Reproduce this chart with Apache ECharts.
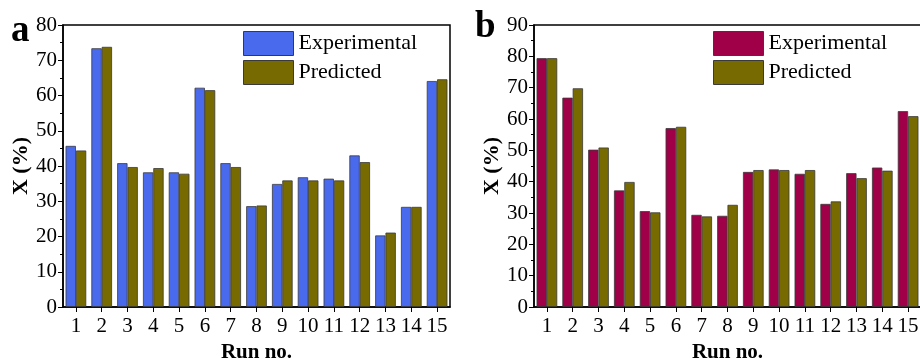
<!DOCTYPE html>
<html>
<head>
<meta charset="utf-8">
<script src="https://cdn.jsdelivr.net/npm/echarts@6/dist/echarts.min.js"></script>
<style>
html,body{margin:0;padding:0;background:#fff;}
#c{width:920px;height:358px;}
</style>
</head>
<body>
<div id="c"></div>
<script>
const runs = ['1','2','3','4','5','6','7','8','9','10','11','12','13','14','15'];
const expA = [45.7,73.4,40.8,38.2,38.2,62.2,40.8,28.6,34.9,36.8,36.4,43.0,20.3,28.4,64.1];
const predA = [44.4,73.8,39.7,39.4,37.8,61.5,39.7,28.8,35.9,35.9,35.9,41.1,21.1,28.4,64.6];
const expB = [79.4,66.8,50.2,37.2,30.6,57.1,29.4,29.1,43.1,43.9,42.5,32.9,42.7,44.5,62.5];
const predB = [79.4,69.8,50.9,39.9,30.2,57.5,28.9,32.6,43.7,43.7,43.7,33.7,41.1,43.5,60.9];

const FONT = "'Liberation Serif','Times New Roman',serif";
const colBlue = '#4A6AEE';
const colRed = '#A00048';
const colOlive = '#776A00';

function xAx(gi){
  return {
    type:'category', gridIndex:gi, data:runs,
    name:'Run no.', nameLocation:'middle', nameGap:30,
    nameTextStyle:{fontFamily:FONT,fontWeight:'bold',fontSize:21,color:'#000'},
    axisLine:{lineStyle:{color:'#000',width:1.5}},
    axisTick:{show:true,alignWithLabel:true,length:5,lineStyle:{color:'#000'}},
    axisLabel:{fontFamily:FONT,fontSize:21,color:'#000',margin:9,interval:0}
  };
}
function yAx(gi,max){
  return {
    type:'value', gridIndex:gi, min:0, max:max, interval:10,
    name:'X (%)', nameLocation:'middle', nameGap:29, nameRotate:90,
    nameTextStyle:{fontFamily:FONT,fontWeight:'bold',fontSize:22,color:'#000'},
    axisLine:{show:true,lineStyle:{color:'#000',width:1.5}},
    axisTick:{show:true,length:5,lineStyle:{color:'#000'}},
    minorTick:{show:true,splitNumber:2,length:3,lineStyle:{color:'#000'}},
    splitLine:{show:false},
    axisLabel:{fontFamily:FONT,fontSize:21,color:'#000',margin:6}
  };
}
function bar(name,data,color,gi){
  return {
    type:'bar', name:name, data:data, xAxisIndex:gi, yAxisIndex:gi,
    barGap:'0%', barCategoryGap:'20%',
    itemStyle:{color:color,borderColor:'#3a3a3a',borderWidth:0.8},
    emphasis:{disabled:true}
  };
}
const legendCommon = {
  orient:'vertical', itemWidth:50, itemHeight:24, itemGap:4, icon:'rect',
  textStyle:{fontFamily:FONT,fontSize:22,color:'#000'},
  padding:0, itemStyle:{borderColor:'#3a3a3a',borderWidth:1}
};

const chart = echarts.init(document.getElementById('c'),null,{renderer:'canvas'});
chart.setOption({
  animation:false,
  backgroundColor:'#fff',
  title:[
    {text:'a',left:11,top:13,padding:0,textStyle:{fontFamily:FONT,fontWeight:'bold',fontSize:37,color:'#000'}},
    {text:'b',left:475,top:9,padding:0,textStyle:{fontFamily:FONT,fontWeight:'bold',fontSize:37,color:'#000'}}
  ],
  grid:[
    {left:63,top:25,width:387,height:282,show:true,borderColor:'#000',borderWidth:1.5,backgroundColor:'transparent',containLabel:false,outerBoundsMode:'none'},
    {left:534,top:25,width:387,height:282,show:true,borderColor:'#000',borderWidth:1.5,backgroundColor:'transparent',containLabel:false,outerBoundsMode:'none'}
  ],
  legend:[
    Object.assign({},legendCommon,{left:243,top:31,data:['Experimental','Predicted'],
      selectedMode:false}),
    Object.assign({},legendCommon,{left:713,top:31,data:['Experimental ','Predicted '],
      selectedMode:false,
      formatter:function(n){return n.trim();}})
  ],
  xAxis:[xAx(0),xAx(1)],
  yAxis:[yAx(0,80),yAx(1,90)],
  series:[
    bar('Experimental',expA,colBlue,0),
    bar('Predicted',predA,colOlive,0),
    bar('Experimental ',expB,colRed,1),
    bar('Predicted ',predB,colOlive,1)
  ]
});
</script>
</body>
</html>
